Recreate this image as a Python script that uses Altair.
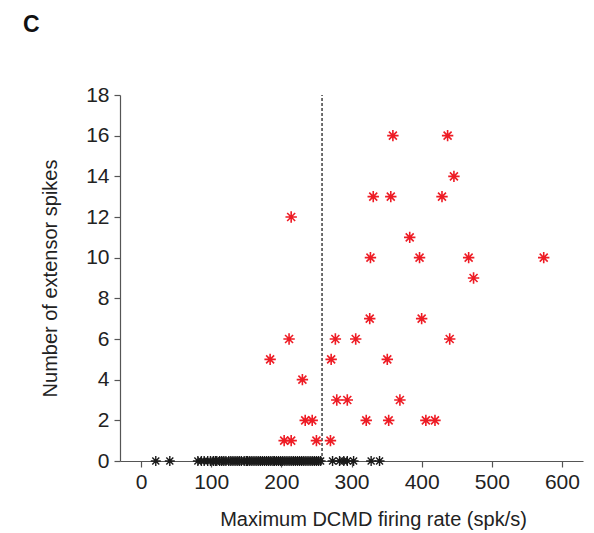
import altair as alt
import pandas as pd

# Red points: responses with extensor spikes
red_rate = [359, 437, 446, 331, 356, 429, 214, 383, 327, 397, 467, 574, 474,
            326, 400, 211, 277, 306, 440, 184, 271, 351, 230, 279, 294, 369,
            234, 244, 321, 353, 406, 419, 204, 214, 250, 270]
red_spikes = [16, 16, 14, 13, 13, 13, 12, 11, 10, 10, 10, 10, 9,
              7, 7, 6, 6, 6, 6, 5, 5, 5, 4, 3, 3, 3,
              2, 2, 2, 2, 2, 2, 1, 1, 1, 1]

# Black points: no extensor spikes
black_rate = [21, 41, 81, 86, 90, 95, 99, 103, 106, 108, 112, 115, 118, 121,
              125, 128, 131, 134, 137, 140, 143, 147, 150, 152, 155, 158, 161,
              164, 167, 170, 173, 176, 179, 182, 185, 188, 190, 193, 196, 199,
              202, 205, 208, 211, 214, 217, 220, 223, 226, 229, 232, 235, 238,
              241, 244, 247, 250, 253, 256, 273, 283, 289, 294, 303, 328, 340]
black_spikes = [0] * len(black_rate)

threshold = [258]

x_ticks = [0, 100, 200, 300, 400, 500, 600]
y_ticks = [0, 2, 4, 6, 8, 10, 12, 14, 16, 18]

red_df = pd.DataFrame({"rate": red_rate, "spikes": red_spikes})
black_df = pd.DataFrame({"rate": black_rate, "spikes": black_spikes})
thr_df = pd.DataFrame({"rate": threshold, "y0": [0], "y1": [18]})

ASTER = "M-1,0L1,0M0,-1L0,1M-0.7,-0.7L0.7,0.7M-0.7,0.7L0.7,-0.7"
FONT = "Liberation Sans"

xscale = alt.Scale(domain=[-30, 630], nice=False, zero=False)
yscale = alt.Scale(domain=[0, 18], nice=False)

xaxis = alt.Axis(values=x_ticks, title="Maximum DCMD firing rate (spk/s)",
                 grid=False, tickSize=6, labelFontSize=21, titleFontSize=20,
                 titleFontWeight="normal", labelPadding=4, titlePadding=17,
                 titleX=253, titleAnchor="middle")
yaxis = alt.Axis(values=y_ticks, title="Number of extensor spikes",
                 grid=False, tickSize=6, labelFontSize=21, titleFontSize=20,
                 titleFontWeight="normal", labelPadding=5, titlePadding=25)

base_x = alt.X("rate:Q", scale=xscale, axis=xaxis)
base_y = alt.Y("spikes:Q", scale=yscale, axis=yaxis)

rule = alt.Chart(thr_df).mark_rule(color="#111", strokeDash=[3, 2], strokeWidth=1.2).encode(
    x=alt.X("rate:Q", scale=xscale, axis=xaxis),
    y=alt.Y("y0:Q", scale=yscale, axis=yaxis),
    y2="y1:Q",
)

black = alt.Chart(black_df).mark_point(
    shape=ASTER, filled=False, color="#1a1a1a", strokeWidth=1.4, size=100, opacity=1
).encode(x=base_x, y=base_y)

red = alt.Chart(red_df).mark_point(
    shape=ASTER, filled=False, color="#ee1c25", strokeWidth=1.6, size=130, opacity=1
).encode(x=base_x, y=base_y)

label = alt.Chart(pd.DataFrame({"t": ["C"]})).mark_text(
    fontSize=23, fontWeight="bold", font=FONT, align="left", baseline="alphabetic",
    color="#111"
).encode(x=alt.value(-97), y=alt.value(-63), text="t:N")

chart = alt.layer(rule, black, red, label).properties(
    width=463, height=366,
    autosize=alt.AutoSizeParams(type="none"),
    padding={"left": 112, "top": 87, "right": 3, "bottom": 70},
).configure_view(stroke=None).configure_axis(
    labelFont=FONT, titleFont=FONT, labelColor="#222", titleColor="#222",
    domainColor="#555", tickColor="#555", domainWidth=1.2, tickWidth=1.2,
)

chart.save("out.html", embed_options={"renderer": "svg", "actions": False})
